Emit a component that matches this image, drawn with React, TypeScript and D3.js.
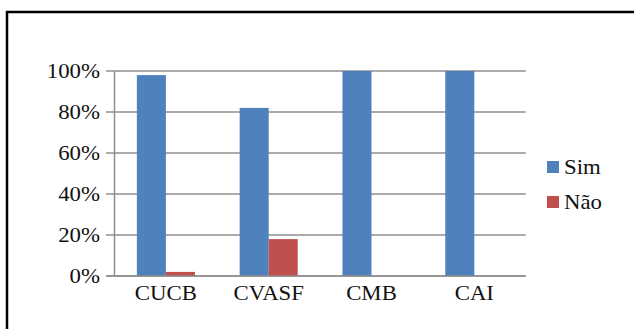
import React from "react";
import * as d3 from "d3";

const categories = ["CUCB", "CVASF", "CMB", "CAI"];
const seriesNames = ["Sim", "Não"];
const simValues = [0.98, 0.82, 1.0, 1.0];
const naoValues = [0.02, 0.18, 0, 0];
const yTicks = [0, 0.2, 0.4, 0.6, 0.8, 1.0];
const colors = ["#4F81BD", "#C0504D"];

const W = 634;
const H = 329;
const FONT = "Liberation Serif, Times New Roman, serif";
const SX = 1.14;

export default function App() {
  const x = d3.scaleBand<string>().domain(categories).range([114.5, 525.7]);
  const xs = d3
    .scaleBand<string>()
    .domain(seriesNames)
    .range([0, x.bandwidth()])
    .paddingInner(0)
    .paddingOuter(0.77);
  const y = d3.scaleLinear().domain([0, 1]).range([276, 71]);
  const series = [simValues, naoValues];
  const fmt = d3.format(".0%");
  const ts = { fontFamily: FONT, fontSize: "20px" } as React.CSSProperties;

  return (
    <svg
      width={W}
      height={H}
      style={{ position: "absolute", left: 0, top: 0, background: "#fff" }}
    >
      <rect x={0} y={0} width={W} height={H} fill="#fff" />
      <rect x={7} y={12} width={W + 20} height={H + 20} fill="none" stroke="#000" strokeWidth={2.5} />
      {yTicks.map((t) => (
        <line
          key={t}
          x1={106}
          x2={525.7}
          y1={y(t)}
          y2={y(t)}
          stroke="#8f8f8f"
          strokeWidth={1.5}
        />
      ))}
      <line x1={114.5} x2={114.5} y1={y(1)} y2={y(0)} stroke="#8f8f8f" strokeWidth={1.5} />
      {series.map((vals, si) =>
        categories.map((c, ci) => {
          const v = vals[ci];
          if (v <= 0) return null;
          const bx = (x(c) as number) + (xs(seriesNames[si]) as number);
          return (
            <rect
              key={`${si}-${c}`}
              x={bx}
              y={y(v)}
              width={xs.bandwidth()}
              height={y(0) - y(v)}
              fill={colors[si]}
            />
          );
        })
      )}
      <line x1={106} x2={525.7} y1={y(0)} y2={y(0)} stroke="#8f8f8f" strokeWidth={1.5} />
      {yTicks.map((t) => (
        <text
          key={t}
          transform={`translate(100,${y(t) + 6.5}) scale(${SX},1)`}
          textAnchor="end"
          style={ts}
          fill="#111"
        >
          {fmt(t)}
        </text>
      ))}
      {categories.map((c) => (
        <text
          key={c}
          transform={`translate(${(x(c) as number) + x.bandwidth() / 2},${300}) scale(${SX},1)`}
          textAnchor="middle"
          style={ts}
          fill="#111"
        >
          {c}
        </text>
      ))}
      {seriesNames.map((s, i) => (
        <g key={s} transform={`translate(547,${161 + i * 35})`}>
          <rect x={0} y={0} width={12} height={12} fill={colors[i]} />
          <text
            transform={`translate(17,12.5) scale(${SX},1)`}
            style={ts}
            fill="#111"
          >
            {s}
          </text>
        </g>
      ))}
    </svg>
  );
}
